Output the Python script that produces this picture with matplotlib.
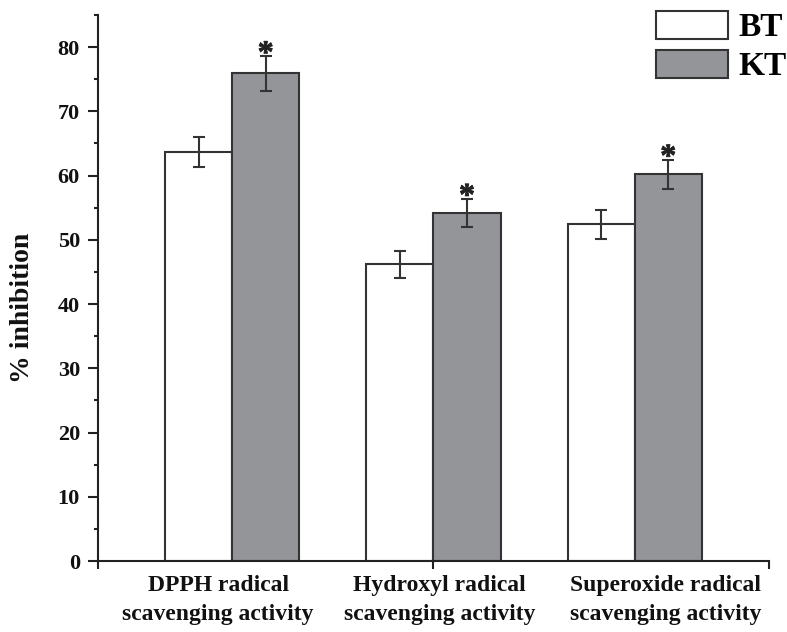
import matplotlib
matplotlib.use("Agg")
import matplotlib.pyplot as plt
import matplotlib.patheffects as pe
import numpy as np
from matplotlib.ticker import FixedLocator, NullFormatter

categories = ["DPPH radical\nscavenging activity",
              "Hydroxyl radical\nscavenging activity",
              "Superoxide radical\nscavenging activity"]
series_names = ["BT", "KT"]
bt_values = [63.7, 46.2, 52.4]
bt_err = [2.3, 2.1, 2.2]
kt_values = [75.9, 54.2, 60.2]
kt_err = [2.7, 2.2, 2.3]
significant = [True, True, True]
y_ticks = [0, 10, 20, 30, 40, 50, 60, 70, 80]

plt.rcParams['font.family'] = ['Liberation Serif', 'DejaVu Serif']
plt.rcParams['font.weight'] = 'bold'

fig = plt.figure(figsize=(7.87, 6.32), dpi=100)
ax = fig.add_axes([0.1245, 0.1123, 0.977 - 0.1245, 0.9763 - 0.1123])

x = np.arange(1, len(categories) + 1)
w = 1 / 3
edge = '#333333'
ax.bar(x - w / 2, bt_values, w, yerr=bt_err, color='white', edgecolor=edge,
       linewidth=1.5, label=series_names[0], capsize=4,
       error_kw=dict(ecolor=edge, elinewidth=1.5, capthick=1.5))
ax.bar(x + w / 2, kt_values, w, yerr=kt_err, color='#939598', edgecolor=edge,
       linewidth=1.5, label=series_names[1], capsize=4,
       error_kw=dict(ecolor=edge, elinewidth=1.5, capthick=1.5))

for xi, v, e, s in zip(x, kt_values, kt_err, significant):
    if s:
        ax.text(xi + w / 2, v + e + 0.2, '*', ha='center', va='center',
                fontsize=23, fontweight='bold', color='#222222',
                path_effects=[pe.withStroke(linewidth=0.6, foreground='#222222')])

ax.set_xlim(1 / 3, 11 / 3)
ax.set_ylim(0, 85)
ax.yaxis.set_major_locator(FixedLocator(y_ticks))
ax.yaxis.set_minor_locator(FixedLocator(np.array(y_ticks) + 5))
ax.tick_params(axis='y', which='major', direction='out', length=7, width=1.5,
               labelsize=16, pad=6, colors='#222222', labelcolor='#111111')
ax.tick_params(axis='y', which='minor', direction='out', length=3, width=1.5,
               colors='#222222')
ax.xaxis.set_major_locator(FixedLocator([1 / 3, 2, 11 / 3]))
ax.xaxis.set_major_formatter(NullFormatter())
ax.tick_params(axis='x', which='major', direction='out', length=6, width=1.5,
               colors='#222222')
for lab in ax.get_yticklabels():
    lab.set_fontweight('bold')

label_pos = [0.93, 2.03, 3.155]
for xp, c in zip(label_pos, categories):
    ax.text(xp, -2.1, c, ha='center', va='top', fontsize=17, fontweight='bold',
            linespacing=1.55, color='#111111')

ax.set_ylabel('% inhibition', fontsize=20, fontweight='bold', color='#111111')
ax.yaxis.label.set_verticalalignment('center')
ax.yaxis.set_label_coords((23 - 98) / 671, (561 - 308) / 546)

for s in ['top', 'right']:
    ax.spines[s].set_visible(False)
for s in ['left', 'bottom']:
    ax.spines[s].set_linewidth(1.5)
    ax.spines[s].set_color('#222222')

leg = fig.legend(loc='upper left', bbox_to_anchor=(656 / 787, 1 - 11 / 632),
                 frameon=False, handlelength=2.16, handleheight=0.9,
                 handletextpad=0.3, labelspacing=0.2, borderpad=0,
                 borderaxespad=0,
                 prop={'weight': 'bold', 'size': 24, 'family': 'Liberation Serif'})

fig.savefig('out.png', dpi=100)
